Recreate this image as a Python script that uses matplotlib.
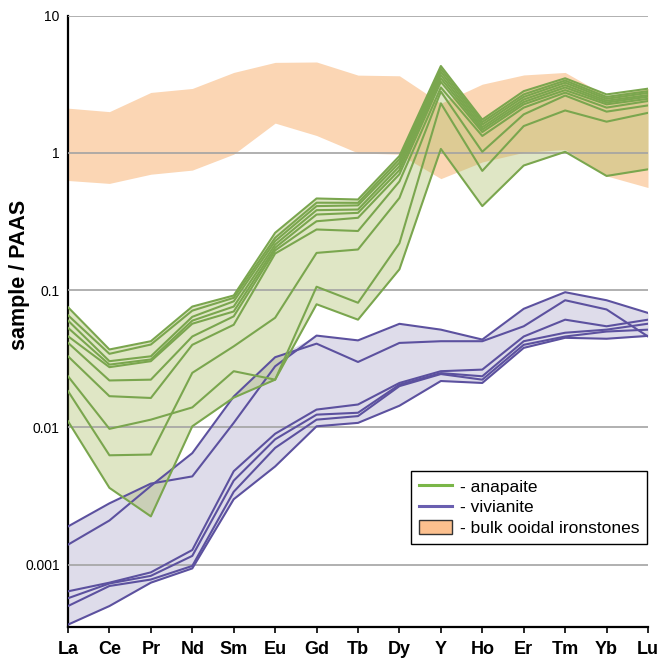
import matplotlib
matplotlib.use("Agg")
import matplotlib.pyplot as plt
from matplotlib.lines import Line2D
from matplotlib.patches import Patch
from matplotlib.ticker import NullLocator

plt.rcParams['font.family'] = ['Liberation Sans', 'DejaVu Sans']

elements = ["La", "Ce", "Pr", "Nd", "Sm", "Eu", "Gd", "Tb", "Dy", "Y",
            "Ho", "Er", "Tm", "Yb", "Lu"]

# anapaite samples (sample / PAAS)
anapaite = [
    [0.0752, 0.0370, 0.0425, 0.076, 0.0915, 0.262, 0.466, 0.458, 0.95, 4.3, 1.75, 2.82, 3.50, 2.67, 2.94],
    [0.0657, 0.0344, 0.0402, 0.071, 0.088, 0.241, 0.434, 0.433, 0.90, 4.1, 1.68, 2.67, 3.37, 2.56, 2.82],
    [0.0601, 0.0304, 0.0330, 0.064, 0.083, 0.228, 0.410, 0.415, 0.85, 3.9, 1.61, 2.56, 3.25, 2.48, 2.74],
    [0.0532, 0.0287, 0.0313, 0.060, 0.076, 0.215, 0.383, 0.387, 0.80, 3.7, 1.54, 2.45, 3.12, 2.40, 2.64],
    [0.0462, 0.0275, 0.0304, 0.057, 0.070, 0.204, 0.356, 0.366, 0.75, 3.5, 1.48, 2.35, 3.00, 2.33, 2.57],
    [0.0414, 0.0220, 0.0223, 0.046, 0.0645, 0.195, 0.318, 0.337, 0.70, 3.3, 1.42, 2.26, 2.87, 2.26, 2.48],
    [0.0330, 0.0169, 0.0164, 0.040, 0.056, 0.185, 0.277, 0.270, 0.62, 3.0, 1.33, 2.14, 2.75, 2.14, 2.39],
    [0.0236, 0.00977, 0.0114, 0.0140, 0.0257, 0.0223, 0.106, 0.081, 0.22, 2.3, 0.74, 1.57, 2.04, 1.69, 1.96],
    [0.0184, 0.00627, 0.00635, 0.025, 0.039, 0.063, 0.187, 0.198, 0.47, 2.8, 1.02, 1.91, 2.62, 2.00, 2.22],
    [0.0111, 0.00363, 0.00225, 0.0102, 0.0165, 0.0223, 0.079, 0.061, 0.142, 1.07, 0.41, 0.81, 1.02, 0.68, 0.76],
]

# vivianite samples
vivianite = [
    [0.0019, 0.0028, 0.0039, 0.0044, 0.0108, 0.0279, 0.0467, 0.0431, 0.0569, 0.0516, 0.0437, 0.0732, 0.0967, 0.0845, 0.0683],
    [0.0014, 0.0021, 0.00375, 0.0065, 0.0168, 0.0325, 0.0408, 0.030, 0.0413, 0.0425, 0.0425, 0.0546, 0.0845, 0.0724, 0.046],
    [0.00064, 0.00074, 0.00088, 0.00128, 0.0048, 0.0090, 0.0135, 0.0147, 0.0211, 0.0257, 0.0264, 0.046, 0.061, 0.0546, 0.061],
    [0.00057, 0.00073, 0.00083, 0.00116, 0.0041, 0.0082, 0.0124, 0.0128, 0.0205, 0.0249, 0.0236, 0.0425, 0.049, 0.0516, 0.057],
    [0.00050, 0.00070, 0.00078, 0.00098, 0.0034, 0.0071, 0.0114, 0.0121, 0.0200, 0.0245, 0.0223, 0.040, 0.046, 0.050, 0.0516],
    [0.000366, 0.00050, 0.00074, 0.00094, 0.0030, 0.0052, 0.0102, 0.0108, 0.0144, 0.0218, 0.0211, 0.038, 0.045, 0.0443, 0.0465],
]

# bulk ooidal ironstones range
iron_upper = [2.12, 2.0, 2.76, 2.95, 3.86, 4.57, 4.6, 3.69, 3.65, 2.3, 3.17, 3.7, 3.86, 2.6, 2.95]
iron_lower = [0.63, 0.60, 0.70, 0.75, 0.98, 1.65, 1.34, 1.0, 0.98, 0.65, 0.86, 1.01, 1.06, 0.68, 0.56]

green = "#7aa64e"
purple = "#5c519f"
x = list(range(len(elements)))

fig = plt.figure(figsize=(6.66, 6.59), dpi=100)
ax = fig.add_axes([68 / 666, 1 - 627.3 / 659, 580 / 666, (627.3 - 15.7) / 659])
ax.set_yscale("log")

ax.fill_between(x, iron_lower, iron_upper, color="#fbd6b4", lw=0, zorder=1)

viv_lo = [min(c) for c in zip(*vivianite)]
viv_hi = [max(c) for c in zip(*vivianite)]
ax.fill_between(x, viv_lo, viv_hi, color="#dedcea", lw=0, zorder=2)

ana_lo = [min(c) for c in zip(*anapaite)]
ana_hi = [max(c) for c in zip(*anapaite)]
ax.fill_between(x, ana_lo, ana_hi, color="#a6b859", alpha=0.35, lw=0, zorder=3)

for v in [0.001, 0.01, 0.1, 1, 10]:
    ax.axhline(v, color="#a3a3a3", lw=1.2, zorder=4)

for row in vivianite:
    ax.plot(x, row, color=purple, lw=1.5, zorder=5)
for row in anapaite:
    ax.plot(x, row, color=green, lw=1.5, zorder=6)

ax.set_xlim(0, 14)
ax.set_ylim(0.00035, 10)

ax.spines["top"].set_visible(False)
ax.spines["right"].set_visible(False)
ax.spines["left"].set_linewidth(1.6)
ax.spines["bottom"].set_linewidth(1.6)

ax.set_xticks(x)
ax.set_xticklabels(elements, fontsize=13, fontweight="bold")
ax.tick_params(axis="x", direction="out", length=4, width=1.2, pad=6)

ax.set_yticks([0.001, 0.01, 0.1, 1, 10])
ax.set_yticklabels(["0.001", "0.01", "0.1", "1", "10"], fontsize=10)
ax.yaxis.set_minor_locator(NullLocator())
ax.tick_params(axis="y", length=0, pad=6)

fig.text(20 / 666, 1 - 275 / 659, "sample / PAAS", rotation=90,
         ha="center", va="center", fontsize=15.5, fontweight="bold")

handles = [
    Line2D([], [], color="#7ab648", lw=2.2),
    Line2D([], [], color="#6a5fb0", lw=2.2),
    Patch(facecolor="#fcc08e", edgecolor="#333333", lw=1),
]
leg = ax.legend(handles, ["- anapaite", "- vivianite", "- bulk ooidal ironstones"],
                loc="lower right", bbox_to_anchor=(0.998, 0.137), borderaxespad=0,
                fontsize=12.5, frameon=True, fancybox=False, framealpha=1,
                edgecolor="black", handlelength=1.9, handleheight=0.9,
                handletextpad=0.45, labelspacing=0.25, borderpad=0.45)
leg.get_frame().set_linewidth(1.0)
leg.set_zorder(10)

fig.savefig("out.png", dpi=100)
